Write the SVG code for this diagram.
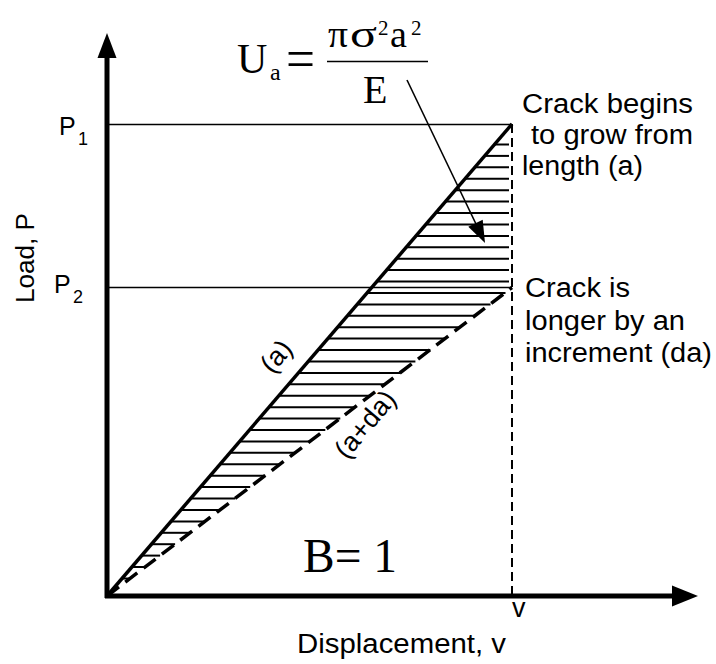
<svg xmlns="http://www.w3.org/2000/svg" width="716" height="664" viewBox="0 0 716 664">
<style>
.ax{stroke:#000;stroke-width:5;fill:none}
.thin{stroke:#000;stroke-width:1.6;fill:none}
.hatch{stroke:#000;stroke-width:2;fill:none}
.sans{font-family:"Liberation Sans",Arial,sans-serif;fill:#000}
.serif{font-family:"Liberation Serif","Times New Roman",serif;fill:#000}
</style>
<rect width="716" height="664" fill="#fff"/>
<g id="hatching" class="hatch">
<line x1="494.4" y1="144.5" x2="509" y2="144.5"/>
<line x1="484.6" y1="155.9" x2="509" y2="155.9"/>
<line x1="474.8" y1="167.3" x2="509" y2="167.3"/>
<line x1="465.0" y1="178.8" x2="509" y2="178.8"/>
<line x1="455.2" y1="190.2" x2="509" y2="190.2"/>
<line x1="445.4" y1="201.6" x2="509" y2="201.6"/>
<line x1="435.6" y1="213.0" x2="509" y2="213.0"/>
<line x1="425.8" y1="224.4" x2="509" y2="224.4"/>
<line x1="416.0" y1="235.9" x2="509" y2="235.9"/>
<line x1="406.2" y1="247.3" x2="509" y2="247.3"/>
<line x1="396.4" y1="258.7" x2="509" y2="258.7"/>
<line x1="386.6" y1="270.1" x2="509" y2="270.1"/>
<line x1="376.8" y1="281.5" x2="509" y2="281.5"/>
<line x1="367.0" y1="293.0" x2="505.5" y2="293.0"/>
<line x1="357.2" y1="304.4" x2="490.5" y2="304.4"/>
<line x1="347.4" y1="315.8" x2="475.5" y2="315.8"/>
<line x1="337.6" y1="327.2" x2="460.4" y2="327.2"/>
<line x1="327.8" y1="338.6" x2="445.4" y2="338.6"/>
<line x1="318.0" y1="350.1" x2="430.4" y2="350.1"/>
<line x1="308.2" y1="361.5" x2="415.4" y2="361.5"/>
<line x1="298.4" y1="372.9" x2="400.4" y2="372.9"/>
<line x1="288.6" y1="384.3" x2="385.4" y2="384.3"/>
<line x1="278.8" y1="395.7" x2="370.3" y2="395.7"/>
<line x1="269.0" y1="407.2" x2="355.3" y2="407.2"/>
<line x1="259.2" y1="418.6" x2="340.3" y2="418.6"/>
<line x1="249.4" y1="430.0" x2="325.3" y2="430.0"/>
<line x1="239.6" y1="441.4" x2="310.3" y2="441.4"/>
<line x1="229.8" y1="452.8" x2="295.3" y2="452.8"/>
<line x1="220.0" y1="464.3" x2="280.2" y2="464.3"/>
<line x1="210.2" y1="475.7" x2="265.2" y2="475.7"/>
<line x1="200.4" y1="487.1" x2="250.2" y2="487.1"/>
<line x1="190.6" y1="498.5" x2="235.2" y2="498.5"/>
<line x1="180.8" y1="509.9" x2="220.2" y2="509.9"/>
<line x1="171.0" y1="521.4" x2="205.2" y2="521.4"/>
<line x1="161.2" y1="532.8" x2="190.1" y2="532.8"/>
<line x1="151.4" y1="544.2" x2="175.1" y2="544.2"/>
<line x1="141.6" y1="555.6" x2="160.1" y2="555.6"/>
<line x1="131.8" y1="567.0" x2="145.1" y2="567.0"/>
<line x1="122.0" y1="578.5" x2="130.1" y2="578.5"/>
</g>
<g id="connectors">
<line id="p1-line" class="thin" x1="107" y1="124.5" x2="512" y2="124.5"/>
<line id="p2-line" class="thin" x1="107" y1="287.5" x2="512" y2="287.5"/>
<line id="v-line" x1="512" y1="124" x2="512" y2="596" stroke="#000" stroke-width="2" stroke-dasharray="9 5"/>
<line id="line-a" x1="107" y1="596" x2="512" y2="124" stroke="#000" stroke-width="3.5"/>
<line id="line-ada" x1="107" y1="596" x2="512" y2="287.5" stroke="#000" stroke-width="3.5" stroke-dasharray="15 8"/>
<line id="formula-arrow" class="thin" x1="407" y1="80" x2="476" y2="224"/>
<polygon points="485,243 468.3,226.7 482.7,219.7" fill="#000"/>
</g>
<g id="axes">
<line class="ax" x1="107" y1="598" x2="107" y2="55"/>
<polygon points="107,33 97.5,58 116.5,58" fill="#000"/>
<line class="ax" x1="105" y1="596" x2="676" y2="596"/>
<polygon points="698,596 672,585.5 672,606.5" fill="#000"/>
</g>
<g id="label-p1" class="sans">
<text x="59" y="135" font-size="25">P</text>
<text x="78" y="145" font-size="18">1</text>
</g>
<g id="label-p2" class="sans">
<text x="54" y="293" font-size="25">P</text>
<text x="73" y="303" font-size="18">2</text>
</g>
<g id="label-load" class="sans">
<text transform="translate(34,303) rotate(-90)" font-size="26" textLength="90" lengthAdjust="spacingAndGlyphs">Load, P</text>
</g>
<g id="label-disp" class="sans">
<text x="297" y="653" font-size="27" textLength="209" lengthAdjust="spacingAndGlyphs">Displacement, v</text>
<text x="512" y="617" font-size="27">v</text>
</g>
<g id="label-top" class="sans" font-size="27">
<text x="522" y="113" textLength="171" lengthAdjust="spacingAndGlyphs">Crack begins</text>
<text x="531" y="144" textLength="162" lengthAdjust="spacingAndGlyphs">to grow from</text>
<text x="522" y="175" textLength="121" lengthAdjust="spacingAndGlyphs">length (a)</text>
</g>
<g id="label-bottom" class="sans" font-size="27">
<text x="525" y="297" textLength="105" lengthAdjust="spacingAndGlyphs">Crack is</text>
<text x="525" y="330" textLength="160" lengthAdjust="spacingAndGlyphs">longer by an</text>
<text x="525" y="362" textLength="187" lengthAdjust="spacingAndGlyphs">increment (da)</text>
</g>
<g id="label-a" class="sans">
<text transform="translate(277,357) rotate(-49)" font-size="27" text-anchor="middle" y="8">(a)</text>
</g>
<g id="label-ada" class="sans">
<text transform="translate(366,425) rotate(-50)" font-size="27" text-anchor="middle" y="8">(a+da)</text>
</g>
<g id="label-b" class="serif">
<text x="303" y="572" font-size="48" textLength="94" lengthAdjust="spacingAndGlyphs">B= 1</text>
</g>
<g id="formula" class="serif">
<text x="237" y="73" font-size="42">U</text>
<text x="270" y="80" font-size="24">a</text>
<text x="286" y="78" font-size="56" textLength="29" lengthAdjust="spacingAndGlyphs">=</text>
<line x1="327" y1="61.5" x2="428" y2="61.5" stroke="#000" stroke-width="1.6"/>
<text x="328" y="47" font-size="38" textLength="20" lengthAdjust="spacingAndGlyphs">π</text>
<text x="350" y="47" font-size="38" textLength="27" lengthAdjust="spacingAndGlyphs">σ</text>
<text x="378" y="35" font-size="21">2</text>
<text x="390" y="47" font-size="38">a</text>
<text x="411" y="35" font-size="21">2</text>
<text x="363" y="103" font-size="40">E</text>
</g>
</svg>
